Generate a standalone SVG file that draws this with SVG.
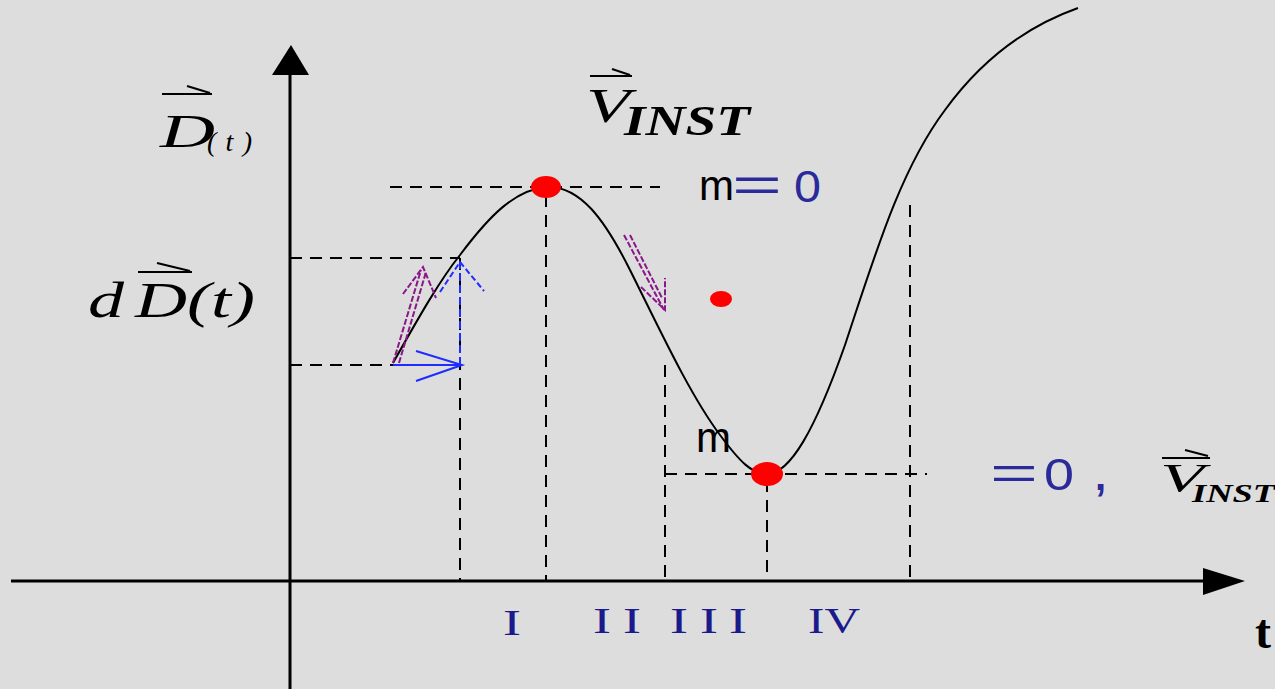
<svg xmlns="http://www.w3.org/2000/svg" width="1275" height="689" viewBox="0 0 1275 689">
<defs>
<style>
.bg{fill:#dddddd}
.axis{stroke:#000;stroke-width:3;fill:none}
.dash{stroke:#000;stroke-width:2;stroke-dasharray:12 8;fill:none}
.curve{stroke:#000;stroke-width:2;fill:none}
.blue{stroke:#1e2cff;stroke-width:2;fill:none}
.purple{stroke:#8a168a;stroke-width:2;fill:none;stroke-dasharray:6 2}
.dot{fill:#ff0000}
.serif{font-family:"Liberation Serif","Times New Roman",serif;font-style:italic;fill:#000}
.roman{font-family:"Liberation Serif","Times New Roman",serif;fill:#1a1a8c;font-size:36px}
.sans{font-family:"Liberation Sans",Arial,sans-serif;fill:#000}
.bl{font-family:"Liberation Sans",Arial,sans-serif;fill:#2a2a9a}
.vec{stroke:#000;stroke-width:2;fill:none}
</style>
</defs>
<rect class="bg" x="0" y="0" width="1275" height="689"/>
<g id="axes">
<line class="axis" x1="11" y1="581" x2="1210" y2="581"/>
<polygon points="1203,568 1245,581 1203,595" fill="#000"/>
<line class="axis" x1="290" y1="689" x2="290" y2="70"/>
<polygon points="272,75 291,45 309,75" fill="#000"/>
</g>
<g id="connectors">
<line class="dash" x1="390" y1="187" x2="660" y2="187"/>
<line class="dash" x1="290" y1="258" x2="460" y2="258"/>
<line class="dash" x1="290" y1="365" x2="393" y2="365"/>
<line class="dash" x1="665" y1="474" x2="927" y2="474"/>
<line class="dash" x1="460" y1="258" x2="460" y2="581"/>
<line class="dash" x1="546" y1="195" x2="546" y2="581"/>
<line class="dash" x1="665" y1="365" x2="665" y2="581"/>
<line class="dash" x1="767" y1="480" x2="767" y2="581"/>
<line class="dash" x1="910" y1="205" x2="910" y2="581"/>
</g>
<g id="curve">
<path class="curve" d="M393,363 C420,315 440,280 460,255 C490,215 515,190 546,187 C580,185 605,220 630,270 C660,330 690,395 720,435 C740,462 752,474 767,474 C790,474 815,430 845,345 C875,255 900,170 945,110 C985,55 1030,25 1078,8"/>
</g>
<g id="blue-arrows">
<line class="blue" x1="393" y1="365" x2="462" y2="365"/>
<polyline class="blue" points="416,351 462,365 416,381"/>
<line class="blue" x1="460" y1="365" x2="460" y2="262" stroke-dasharray="8 4"/>
<polyline class="blue" points="440,292 460,262 484,291" stroke-dasharray="6 3"/>
</g>
<g id="purple-arrows">
<line class="purple" x1="393" y1="363" x2="421" y2="270"/>
<line class="purple" x1="399" y1="363" x2="426" y2="272"/>
<polyline class="purple" points="403,294 423,267 436,298"/>
<line class="purple" x1="624" y1="235" x2="664" y2="310"/>
<line class="purple" x1="630" y1="235" x2="662" y2="298"/>
<polyline class="purple" points="641,287 665,310 665,278" stroke-dasharray="none"/>
</g>
<g id="points">
<ellipse class="dot" cx="546" cy="187" rx="15" ry="11"/>
<ellipse class="dot" cx="721" cy="299" rx="11" ry="8"/>
<ellipse class="dot" cx="767" cy="474" rx="16" ry="12"/>
</g>
<g id="label-D">
<line class="vec" x1="162" y1="94" x2="212" y2="94"/>
<line class="vec" x1="187" y1="86" x2="210" y2="93"/>
<text class="serif" x="160" y="147" font-size="46" textLength="55" lengthAdjust="spacingAndGlyphs">D</text>
<text class="serif" x="207" y="151" font-size="28" textLength="45" lengthAdjust="spacing">(t)</text>
</g>
<g id="label-dD">
<line class="vec" x1="138" y1="272" x2="192" y2="272"/>
<line class="vec" x1="157" y1="263" x2="190" y2="271"/>
<text class="serif" x="88" y="317" font-size="50" textLength="36" lengthAdjust="spacingAndGlyphs">d</text>
<text class="serif" x="135" y="317" font-size="50" textLength="120" lengthAdjust="spacingAndGlyphs">D(t)</text>
</g>
<g id="label-vinst">
<line class="vec" x1="590" y1="76" x2="632" y2="76"/>
<line class="vec" x1="612" y1="69" x2="630" y2="75"/>
<text class="serif" x="586" y="122" font-size="48" textLength="44" lengthAdjust="spacingAndGlyphs">V</text>
<text class="serif" x="624" y="135" font-size="42" font-weight="bold" textLength="126" lengthAdjust="spacingAndGlyphs">INST</text>
</g>
<g id="label-top-m">
<text class="sans" x="699" y="200" font-size="42">m</text>
<text class="bl" x="732" y="201" font-size="48" textLength="50" lengthAdjust="spacingAndGlyphs">=</text>
<text class="bl" x="794" y="202" font-size="44" textLength="27" lengthAdjust="spacingAndGlyphs">0</text>
</g>
<g id="label-bottom-m">
<text class="sans" x="696" y="452" font-size="42">m</text>
<text class="bl" x="990" y="489" font-size="46" textLength="48" lengthAdjust="spacingAndGlyphs">=</text>
<text class="bl" x="1044" y="490" font-size="44" textLength="30" lengthAdjust="spacingAndGlyphs">0</text>
<text class="bl" x="1095" y="490" font-size="40" font-weight="bold">,</text>
<line class="vec" x1="1162" y1="458" x2="1210" y2="458"/>
<line class="vec" x1="1185" y1="450" x2="1208" y2="456"/>
<text class="serif" x="1160" y="491" font-size="40" textLength="44" lengthAdjust="spacingAndGlyphs">V</text>
<text class="serif" x="1192" y="502" font-size="26" font-weight="bold" textLength="83" lengthAdjust="spacingAndGlyphs">INST</text>
</g>
<g id="labels-regions">
<text class="roman" x="503" y="635" textLength="18" lengthAdjust="spacingAndGlyphs">I</text>
<text class="roman" x="593" y="633" textLength="18" lengthAdjust="spacingAndGlyphs">I</text>
<text class="roman" x="623" y="633" textLength="18" lengthAdjust="spacingAndGlyphs">I</text>
<text class="roman" x="670" y="633" textLength="18" lengthAdjust="spacingAndGlyphs">I</text>
<text class="roman" x="700" y="633" textLength="18" lengthAdjust="spacingAndGlyphs">I</text>
<text class="roman" x="729" y="633" textLength="18" lengthAdjust="spacingAndGlyphs">I</text>
<text class="roman" x="808" y="633" textLength="52" lengthAdjust="spacingAndGlyphs">IV</text>
</g>
<g id="label-t">
<text x="1255" y="648" font-family="'Liberation Serif','Times New Roman',serif" font-weight="bold" font-size="48" fill="#000">t</text>
</g>
</svg>
